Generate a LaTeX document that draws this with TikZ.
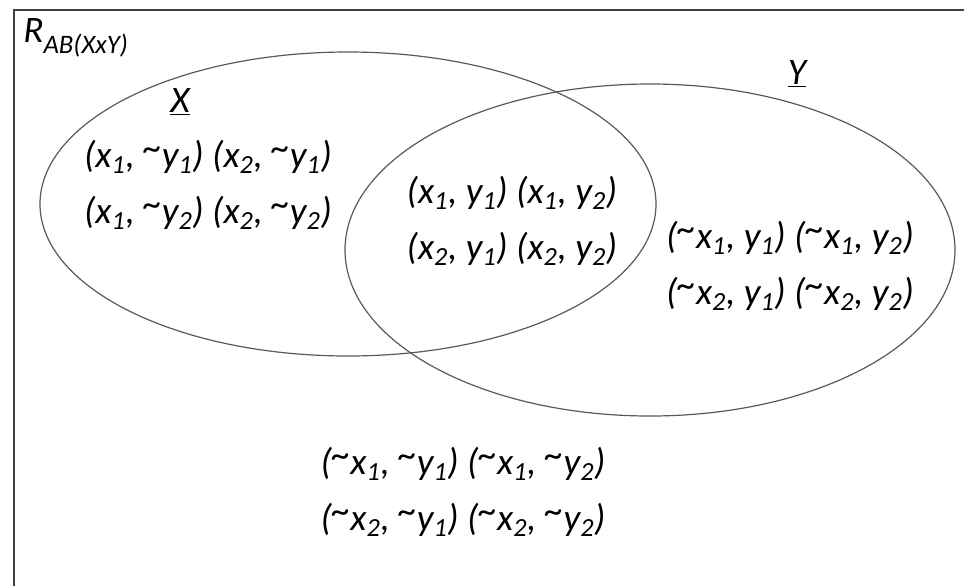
\documentclass[tikz,border=0pt]{standalone}
\usepackage{fontspec}
\setmainfont{Carlito}
\usetikzlibrary{positioning}
\newcommand{\vx}[1]{x\textsubscript{#1}}
\newcommand{\vy}[1]{y\textsubscript{#1}}
\newcommand{\nt}{\raisebox{0.18em}{\textasciitilde}}
\begin{document}
\begin{tikzpicture}[x=0.75pt,y=-0.75pt,
 e/.style={draw=black!65,line width=0.9pt},
 t/.style={font=\fontsize{28}{42}\selectfont\itshape,align=center,inner sep=0pt},
 h/.style={font=\fontsize{28}{30}\selectfont\itshape,inner sep=0pt}
]
\useasboundingbox (0,0) rectangle (964,586);
\draw[line width=1.5pt,draw=black!75] (14,586)--(14,10)--(964,10);
\draw[e] (348,204) ellipse [x radius=308,y radius=152];
\draw[e] (650,250) ellipse [x radius=305,y radius=166];
\node[h,anchor=base west] (rab) at (23,42) {R\raisebox{-0.3em}{\fontsize{20}{22}\selectfont AB(XxY)}};
\node[h,anchor=base] (xl) at (180,112) {\underline{X}};
\node[h,anchor=base] (yl) at (797,84) {\underline{Y}};
\node[t] (onlyx) at (208,185) {(\vx1, \nt\vy1) (\vx2, \nt\vy1)\\(\vx1, \nt\vy2) (\vx2, \nt\vy2)};
\node[t] (both) at (512,221) {(\vx1, \vy1) (\vx1, \vy2)\\(\vx2, \vy1) (\vx2, \vy2)};
\node[t] (onlyy) at (790,266) {(\nt\vx1, \vy1) (\nt\vx1, \vy2)\\(\nt\vx2, \vy1) (\nt\vx2, \vy2)};
\node[t] (none) at (463,492) {(\nt\vx1, \nt\vy1) (\nt\vx1, \nt\vy2)\\(\nt\vx2, \nt\vy1) (\nt\vx2, \nt\vy2)};
\end{tikzpicture}
\end{document}
